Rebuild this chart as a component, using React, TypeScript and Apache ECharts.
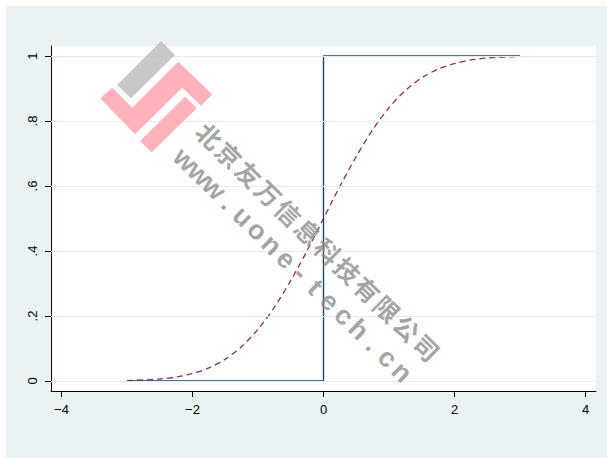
import React, { useEffect, useRef } from "react";
import * as echarts from "echarts";

const curveX = [-3, -2.75, -2.5, -2.25, -2, -1.75, -1.5, -1.25, -1, -0.75, -0.5, -0.25, 0, 0.25, 0.5, 0.75, 1, 1.25, 1.5, 1.75, 2, 2.25, 2.5, 2.75, 3];
const curveY = [0.001, 0.003, 0.006, 0.012, 0.023, 0.04, 0.067, 0.106, 0.159, 0.227, 0.309, 0.401, 0.5, 0.599, 0.691, 0.773, 0.841, 0.894, 0.933, 0.96, 0.977, 0.988, 0.994, 0.997, 0.999];
const stepX = [-3, 0, 0, 3];
const stepY = [0, 0, 1, 1];
const xTicks = [-4, -2, 0, 2, 4];
const yTicks = [0, 0.2, 0.4, 0.6, 0.8, 1];
const yTickLabels = ["0", ".2", ".4", ".6", ".8", "1"];
const wmCompany = "北京友万信息科技有限公司";
const wmUrl = "www.uone-tech.cn";

const ANG = -Math.atan2(212, 217);

function charsAlong(text: string, x0: number, y0: number, x1: number, y1: number, style: any) {
  const chars = Array.from(text);
  const n = chars.length;
  return chars.map((c, i) => ({
    type: "text",
    x: x0 + ((x1 - x0) * i) / (n - 1),
    y: y0 + ((y1 - y0) * i) / (n - 1),
    rotation: ANG,
    silent: true,
    z: 100,
    style: { text: c, x: 0, y: 0, align: "center", verticalAlign: "middle", ...style },
  }));
}

export default function App() {
  const ref = useRef<HTMLDivElement>(null);
  useEffect(() => {
    if (!ref.current) return;
    const chart = echarts.init(ref.current, null, { renderer: "svg" });
    const off = 6;
    const P = (x: number, y: number) => [x - off, y - off];
    const pink = "rgba(255,170,178,0.9)";
    const graphic: any[] = [
      {
        type: "polygon",
        silent: true,
        z: 99,
        shape: { points: [P(161, 41), P(175, 55), P(131, 98.3), P(117, 85)] },
        style: { fill: "rgba(190,190,190,0.85)" },
      },
      {
        type: "polygon",
        silent: true,
        z: 99,
        shape: {
          points: [
            P(100.3, 98.3), P(112.3, 87.7), P(132.3, 107.7), P(178.3, 61.7),
            P(212.3, 94.3), P(201, 105.7), P(182.3, 87.7), P(135, 134.3),
          ],
        },
        style: { fill: pink },
      },
      {
        type: "polygon",
        silent: true,
        z: 99,
        shape: { points: [P(140, 141), P(185, 96.7), P(196.7, 108.3), P(151.7, 152.3)] },
        style: { fill: pink },
      },
      ...charsAlong(wmCompany, 210 - off, 135 - off, 427 - off, 347 - off, {
        fill: "rgba(140,140,140,0.78)",
        fontSize: 25,
        fontWeight: "bold",
        fontFamily: "Noto Sans CJK SC",
      }),
      ...charsAlong(wmUrl, 185 - off, 160 - off, 402 - off, 372 - off, {
        fill: "rgba(140,140,140,0.78)",
        fontSize: 27,
        fontWeight: "bold",
        fontFamily: "Liberation Sans, Arial, sans-serif",
      }),
    ];

    chart.setOption({
      animation: false,
      backgroundColor: "#EAF2F3",
      grid: {
        left: 45,
        right: 11,
        top: 40,
        bottom: 67,
        show: true,
        backgroundColor: "#ffffff",
        borderWidth: 0,
      },
      xAxis: {
        type: "value",
        min: -4.16,
        max: 4.16,
        axisLine: { show: true, onZero: false, lineStyle: { color: "#000", width: 1 } },
        axisTick: { show: true, length: 6, customValues: xTicks, lineStyle: { color: "#000" } },
        axisLabel: {
          customValues: xTicks,
          margin: 12,
          color: "#000",
          fontSize: 13,
          fontFamily: "Liberation Sans, Arial, sans-serif",
          formatter: (v: number) => (v < 0 ? "\u2212" + Math.abs(v) : String(v)),
        },
        splitLine: { show: false },
      },
      yAxis: {
        type: "value",
        min: -0.031,
        max: 1.031,
        axisLine: { show: true, onZero: false, lineStyle: { color: "#000", width: 1 } },
        axisTick: { show: true, length: 6, customValues: yTicks, lineStyle: { color: "#000" } },
        axisLabel: {
          customValues: yTicks,
          rotate: 90,
          margin: 12,
          color: "#000",
          fontSize: 13,
          fontFamily: "Liberation Sans, Arial, sans-serif",
          formatter: (v: number) => {
            const i = yTicks.findIndex((t) => Math.abs(t - v) < 1e-9);
            return i >= 0 ? yTickLabels[i] : "";
          },
        },
        splitLine: { show: false },
      },
      series: [
        {
          type: "line",
          data: [],
          z: 1,
          silent: true,
          markLine: {
            silent: true,
            symbol: ["none", "none"],
            label: { show: false },
            lineStyle: { color: "#E3ECEE", width: 1, type: "solid" },
            data: yTicks.map((t) => ({ yAxis: t })),
          },
        },
        {
          type: "line",
          data: curveX.map((x, i) => [x, curveY[i]]),
          showSymbol: false,
          smooth: 0.3,
          z: 3,
          lineStyle: { color: "#90353B", width: 1.3, type: [6, 4] },
        },
        {
          type: "line",
          data: stepX.map((x, i) => [x, stepY[i]]),
          showSymbol: false,
          z: 4,
          lineStyle: { color: "#1A476F", width: 1.4 },
        },
      ],
      graphic,
    });
    return () => chart.dispose();
  }, []);
  return (
    <div
      ref={ref}
      style={{ position: "fixed", left: 6, top: 6, width: 601, height: 452 }}
    />
  );
}
